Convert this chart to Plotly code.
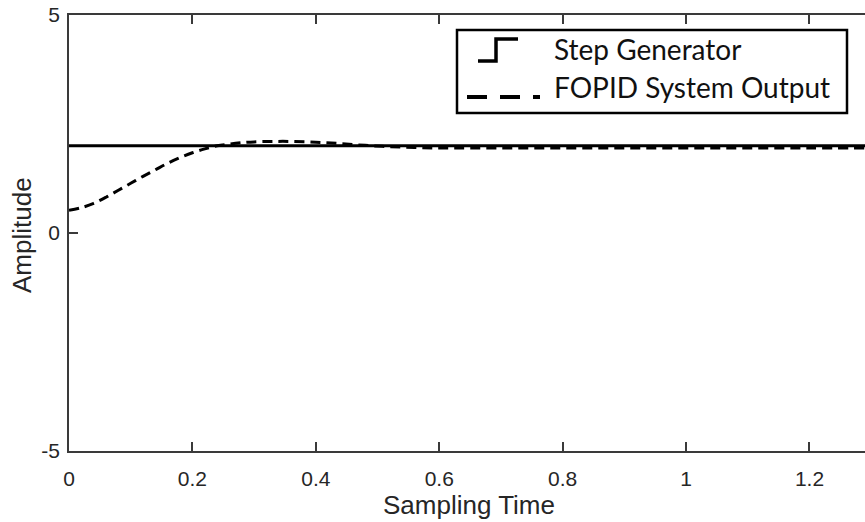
import plotly.graph_objects as go

# ---- data ----
time_step = [0.0, 1.29]
step_values = [2.0, 2.0]

time_out = [0.0, 0.02, 0.04, 0.06, 0.08, 0.10, 0.12, 0.14, 0.16, 0.18, 0.20, 0.22,
            0.24, 0.26, 0.28, 0.30, 0.33, 0.36, 0.40, 0.44, 0.48, 0.52, 0.56, 0.60,
            0.70, 0.80, 0.90, 1.00, 1.10, 1.20, 1.29]
fopid_output = [0.52, 0.58, 0.68, 0.82, 0.98, 1.14, 1.30, 1.45, 1.60, 1.73, 1.84, 1.93,
                2.00, 2.04, 2.07, 2.09, 2.10, 2.10, 2.08, 2.05, 2.01, 1.98, 1.96, 1.95,
                1.95, 1.95, 1.95, 1.95, 1.95, 1.95, 1.95]

x_ticks = [0, 0.2, 0.4, 0.6, 0.8, 1.0, 1.2]
x_tick_labels = ["0", "0.2", "0.4", "0.6", "0.8", "1", "1.2"]
y_ticks = [-5, 0, 5]
y_tick_labels = ["-5", "0", "5"]

legend_labels = ["Step Generator", "FOPID System Output"]

# ---- layout geometry (page pixels) ----
W, H = 865, 522
PLOT_L, PLOT_T, PLOT_B, PLOT_R = 69, 15, 451, 865
ML, MT = PLOT_L, PLOT_T
MB = H - PLOT_B
MR = W - PLOT_R
PW, PH = PLOT_R - PLOT_L, PLOT_B - PLOT_T


def px(x):
    return (x - PLOT_L) / PW


def py(y):
    return (PLOT_B - y) / PH


fig = go.Figure()
fig.add_trace(go.Scatter(x=time_step, y=step_values, mode="lines",
                         line=dict(color="black", width=3), name=legend_labels[0],
                         showlegend=False))
fig.add_trace(go.Scatter(x=time_out, y=fopid_output, mode="lines",
                         line=dict(color="black", width=3, dash="10px,6px", shape="spline"),
                         name=legend_labels[1], showlegend=False))

axis_color = "#3a3a3a"
tick_font = dict(family="Liberation Sans, Arial, sans-serif", size=21, color="#262626")

fig.update_xaxes(range=[0, 1.29], tickvals=x_ticks, ticktext=x_tick_labels,
                 showgrid=False, zeroline=False, showline=True, linecolor=axis_color,
                 linewidth=1.5, mirror="ticks", ticks="inside", ticklen=9,
                 tickwidth=1.5, tickcolor=axis_color, tickfont=tick_font,
                 ticklabelstandoff=8)
fig.update_yaxes(range=[-5, 5], tickvals=y_ticks, ticktext=y_tick_labels,
                 showgrid=False, zeroline=False, showline=True, linecolor=axis_color,
                 linewidth=1.5, ticks="inside", ticklen=9, tickwidth=1.5,
                 tickcolor=axis_color, tickfont=tick_font, ticklabelstandoff=3)

shapes = []
annotations = []

# legend box
shapes.append(dict(type="rect", xref="paper", yref="paper",
                   x0=px(457), x1=px(847), y0=py(113), y1=py(30),
                   line=dict(color="black", width=2.5), fillcolor="white", layer="above"))
# step glyph
path = "M {},{} L {},{} L {},{} L {},{}".format(px(478), py(61), px(496), py(61),
                                                px(496), py(39), px(518), py(39))
shapes.append(dict(type="path", xref="paper", yref="paper", path=path,
                   line=dict(color="black", width=3.5), layer="above"))
# dashed glyph
for a, b in [(467, 487), (500, 520), (533, 540)]:
    shapes.append(dict(type="line", xref="paper", yref="paper",
                       x0=px(a), x1=px(b), y0=py(97), y1=py(97),
                       line=dict(color="black", width=4), layer="above"))

leg_font = dict(family="Lato, Noto Sans, sans-serif", size=28, color="#111111")
annotations.append(dict(xref="paper", yref="paper", x=px(552), y=py(49),
                        xanchor="left", yanchor="middle", text=legend_labels[0],
                        showarrow=False, font=leg_font))
annotations.append(dict(xref="paper", yref="paper", x=px(552), y=py(87),
                        xanchor="left", yanchor="middle", text=legend_labels[1],
                        showarrow=False, font=leg_font))

title_font = dict(family="Liberation Sans, Arial, sans-serif", size=26, color="#262626")
annotations.append(dict(xref="paper", yref="paper", x=px(469), y=py(505),
                        xanchor="center", yanchor="middle", text="Sampling Time",
                        showarrow=False, font=title_font))
annotations.append(dict(xref="paper", yref="paper", x=px(22), y=py(235),
                        xanchor="center", yanchor="middle", text="Amplitude",
                        textangle=-90, showarrow=False, font=title_font))

fig.update_layout(width=W, height=H, autosize=False,
                  margin=dict(l=ML, r=MR, t=MT, b=MB),
                  paper_bgcolor="white", plot_bgcolor="white",
                  shapes=shapes, annotations=annotations, showlegend=False)

fig.write_html("out.html", config={"displayModeBar": False},
               post_script="document.body.style.margin='0';document.body.style.overflow='hidden';")
